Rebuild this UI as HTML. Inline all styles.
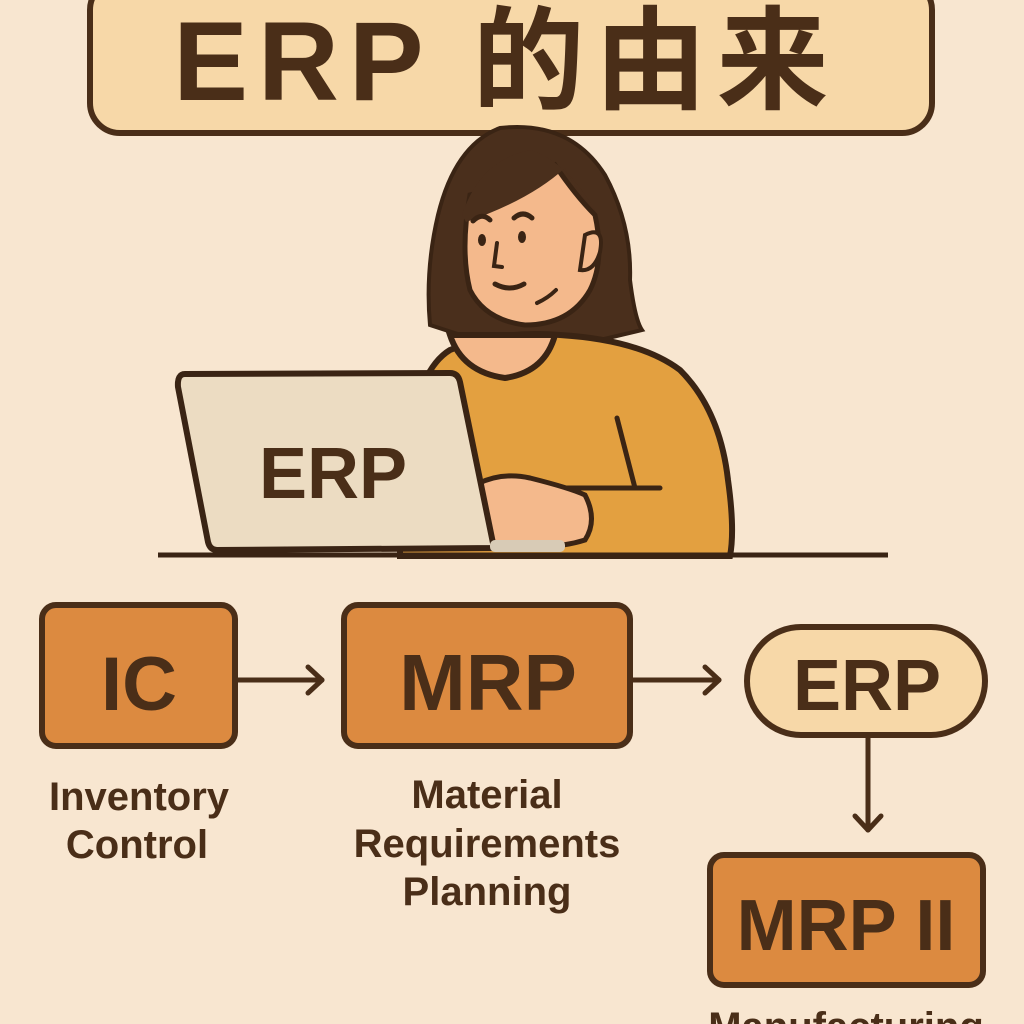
<!DOCTYPE html>
<html><head><meta charset="utf-8"><style>
html,body{margin:0;padding:0;background:#f8e6d0;}
svg{display:block}
text{font-family:"Liberation Sans","Noto Sans CJK SC",sans-serif;fill:#4a2e18}
</style></head><body>
<svg width="1024" height="1024" viewBox="0 0 1024 1024">
<rect width="1024" height="1024" fill="#f8e6d0"/>
<rect x="90" y="-20" width="842" height="153" rx="30" fill="#f7d8a8" stroke="#4a2e18" stroke-width="6"/>
<text x="506" y="100" font-size="112" font-weight="bold" text-anchor="middle" letter-spacing="10">ERP 的由来</text>
<path d="M500 128 Q570 120 605 175 Q632 225 630 280 Q635 320 642 330 L600 340 L470 338 L430 325 Q425 270 438 215 Q455 145 500 128Z" fill="#4a2f1c" stroke="#3a2414" stroke-width="4"/>
<path d="M400 556 Q400 380 450 350 Q500 330 560 335 Q640 340 680 370 Q720 410 728 480 Q735 530 730 556 Z" fill="#e3a040" stroke="#3a2414" stroke-width="6"/>
<path d="M450 335 Q462 372 505 378 Q545 372 555 335 Z" fill="#f4b98c" stroke="#3a2414" stroke-width="6"/>
<path d="M470 195 Q515 185 555 165 Q575 195 595 215 Q605 260 590 290 Q570 325 525 325 Q485 320 470 290 Q460 250 470 195 Z" fill="#f4b98c" stroke="#3a2414" stroke-width="5"/>
<path d="M585 235 Q605 225 600 252 Q594 272 580 270Z" fill="#f4b98c" stroke="#3a2414" stroke-width="4"/>
<path d="M462 215 Q480 160 530 150 Q565 160 595 210 Q575 190 565 168 Q530 200 466 222Z" fill="#4a2f1c"/>
<path d="M473 221 Q482 212 490 220 M514 218 Q523 210 532 218" fill="none" stroke="#3a2414" stroke-width="5" stroke-linecap="round"/>
<ellipse cx="482" cy="240" rx="4" ry="6" fill="#3a2414"/><ellipse cx="522" cy="237" rx="4" ry="6" fill="#3a2414"/>
<path d="M497 243 L494 266 L502 267" fill="none" stroke="#3a2414" stroke-width="4" stroke-linecap="round"/>
<path d="M495 284 Q510 292 524 284" fill="none" stroke="#3a2414" stroke-width="5" stroke-linecap="round"/>
<path d="M537 303 Q548 298 556 290" fill="none" stroke="#3a2414" stroke-width="4" stroke-linecap="round"/>
<path d="M617 418 L635 488 M565 488 L660 488" fill="none" stroke="#3a2414" stroke-width="5" stroke-linecap="round"/>
<path d="M450 505 Q485 468 530 478 Q570 488 585 495 Q598 520 585 540 Q560 548 530 546 L470 546 Z" fill="#f4b98c" stroke="#3a2414" stroke-width="5"/>
<path d="M185 374 L450 373 Q458 373 460 382 L494 548 L217 550 Q210 550 208 542 L178 387 Q177 374 185 374Z" fill="#ecdcc2" stroke="#3a2414" stroke-width="6"/>
<rect x="490" y="540" width="75" height="12" rx="5" fill="#d8cbb6"/>
<text x="333" y="498" font-size="72" font-weight="bold" text-anchor="middle">ERP</text>
<line x1="158" y1="555" x2="888" y2="555" stroke="#3a2414" stroke-width="5"/>
<rect x="42" y="605" width="193" height="141" rx="14" fill="#dc8a40" stroke="#4a2e18" stroke-width="6"/>
<text x="139" y="710" font-size="76" font-weight="bold" text-anchor="middle">IC</text>
<rect x="344" y="605" width="286" height="141" rx="14" fill="#dc8a40" stroke="#4a2e18" stroke-width="6"/>
<text x="488" y="710" font-size="80" font-weight="bold" text-anchor="middle">MRP</text>
<rect x="747" y="627" width="238" height="108" rx="54" fill="#f7d8a8" stroke="#4a2e18" stroke-width="6"/>
<text x="867" y="710" font-size="72" font-weight="bold" text-anchor="middle">ERP</text>
<rect x="710" y="855" width="273" height="130" rx="14" fill="#dc8a40" stroke="#4a2e18" stroke-width="6"/>
<text x="846" y="950" font-size="72" font-weight="bold" text-anchor="middle">MRP II</text>
<g stroke="#4a2e18" stroke-width="5" fill="none" stroke-linecap="round" stroke-linejoin="round">
<line x1="237" y1="680" x2="322" y2="680"/><path d="M308 667 L322 680 L308 693"/>
<line x1="632" y1="680" x2="719" y2="680"/><path d="M705 667 L719 680 L705 693"/>
<line x1="868" y1="738" x2="868" y2="830"/><path d="M855 816 L868 830 L881 816"/>
</g>
<g font-size="40" font-weight="bold" text-anchor="middle">
<text x="139" y="810">Inventory</text><text x="137" y="858">Control</text>
<text x="487" y="808">Material</text><text x="487" y="857">Requirements</text><text x="487" y="905">Planning</text>
<text x="846" y="1040">Manufacturing</text>
</g>
</svg>
</body></html>
